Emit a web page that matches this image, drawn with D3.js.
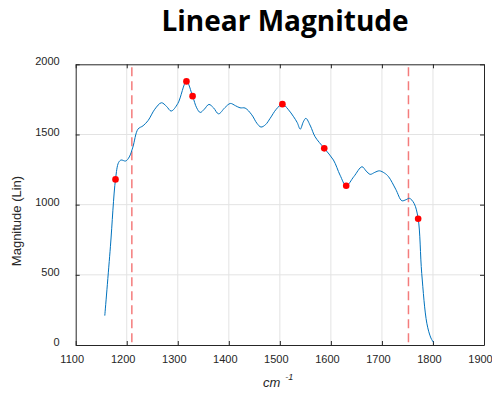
<!DOCTYPE html>
<html>
<head>
<meta charset="utf-8">
<script src="https://cdn.jsdelivr.net/npm/d3@7"></script>
<style>
  body { margin: 0; background: #fff; }
  svg { display: block; }
</style>
</head>
<body>
<svg id="chart" width="492" height="395"></svg>
<script>
// スペクトル (波数, 振幅)
var wavenum = [1157, 1168, 1178, 1184, 1189, 1198, 1205, 1212, 1222, 1232, 1242, 1255, 1268, 1278, 1287, 1300, 1317, 1329, 1337, 1344, 1352, 1361, 1370, 1380, 1392, 1403, 1413, 1422, 1432, 1445, 1455, 1463, 1472, 1481, 1493, 1505, 1516, 1527, 1534, 1540, 1546, 1551, 1560, 1569, 1587, 1605, 1618, 1630, 1645, 1661, 1669, 1677, 1686, 1695, 1705, 1713, 1727, 1739, 1747, 1754, 1763, 1771, 1778, 1788, 1796, 1801];
var magnitude = [209, 700, 1180, 1300, 1318, 1311, 1340, 1410, 1538, 1562, 1600, 1680, 1726, 1700, 1667, 1720, 1878, 1773, 1690, 1657, 1680, 1714, 1690, 1647, 1690, 1721, 1705, 1690, 1688, 1640, 1580, 1553, 1570, 1615, 1680, 1716, 1680, 1626, 1585, 1538, 1590, 1615, 1560, 1484, 1401, 1318, 1210, 1135, 1200, 1270, 1240, 1216, 1230, 1241, 1225, 1199, 1110, 1028, 1035, 1045, 1009, 900, 510, 155, 50, 19];

// 赤い点
var peakX = [1178, 1317, 1329, 1505, 1587, 1630, 1771];
var peakY = [1180, 1878, 1773, 1716, 1401, 1135, 900];

// 赤い破線
var markerX = [1210, 1752];

var xTicks = [1100, 1200, 1300, 1400, 1500, 1600, 1700, 1800, 1900];
var yTicks = [0, 500, 1000, 1500, 2000];

var pL = 75.7, pR = 484, pT = 64.3, pB = 345;

var svg = d3.select("#chart");

var x = d3.scaleLinear().domain([1100, 1900]).range([pL, pR]);
var y = d3.scaleLinear().domain([0, 2000]).range([pB, pT]);

// グリッド
svg.append("g").selectAll("line")
   .data(xTicks.slice(1, -1)).enter()
   .append("line")
   .attr("x1", function(d){return x(d);}).attr("x2", function(d){return x(d);})
   .attr("y1", pT).attr("y2", pB)
   .attr("stroke", "#e3e3e3").attr("stroke-width", 1);
svg.append("g").selectAll("line")
   .data(yTicks.slice(1, -1)).enter()
   .append("line")
   .attr("x1", pL).attr("x2", pR)
   .attr("y1", function(d){return y(d);}).attr("y2", function(d){return y(d);})
   .attr("stroke", "#e3e3e3").attr("stroke-width", 1);

// 軸 (内向きの目盛)
var fmt = function(d){ return d; };
var gx = svg.append("g").attr("transform", "translate(0," + pB + ")")
   .call(d3.axisBottom(x).tickValues(xTicks).tickSizeInner(-4).tickSizeOuter(0).tickPadding(10).tickFormat(fmt));
svg.append("g").attr("transform", "translate(0," + pT + ")")
   .call(d3.axisTop(x).tickValues(xTicks).tickSizeInner(-4).tickSizeOuter(0).tickFormat(""));
var gy = svg.append("g").attr("transform", "translate(" + pL + ",0)")
   .call(d3.axisLeft(y).tickValues(yTicks).tickSizeInner(-4).tickSizeOuter(0).tickPadding(16).tickFormat(fmt));
svg.append("g").attr("transform", "translate(" + pR + ",0)")
   .call(d3.axisRight(y).tickValues(yTicks).tickSizeInner(-4).tickSizeOuter(0).tickFormat(""));

svg.selectAll(".domain").attr("stroke", "#262626").attr("stroke-width", 1);
svg.selectAll(".tick line").attr("stroke", "#262626");
svg.selectAll(".tick text")
   .attr("font-family", "'Liberation Sans', Arial, sans-serif")
   .attr("font-size", 11).attr("fill", "#262626");
gx.selectAll(".tick text").attr("dx", -4);
gy.selectAll(".tick text").attr("dy", "0.05em");

// 破線
svg.append("g").selectAll("line")
   .data(markerX).enter()
   .append("line")
   .attr("x1", function(d){return x(d);}).attr("x2", function(d){return x(d);})
   .attr("y1", pT + 3).attr("y2", pB)
   .attr("stroke", "#f47c7c").attr("stroke-width", 1.5)
   .attr("stroke-dasharray", "9,5");

// 曲線
var pts = wavenum.map(function(d, i){ return [d, magnitude[i]]; });
var line = d3.line()
   .x(function(d){return x(d[0]);})
   .y(function(d){return y(d[1]);})
   .curve(d3.curveCatmullRom.alpha(0.5));
svg.append("path").datum(pts)
   .attr("d", line)
   .attr("fill", "none")
   .attr("stroke", "#0072bd")
   .attr("stroke-width", 1);

// 点
svg.append("g").selectAll("circle")
   .data(peakX).enter()
   .append("circle")
   .attr("cx", function(d){return x(d);})
   .attr("cy", function(d, i){return y(peakY[i]);})
   .attr("r", 3.3)
   .attr("fill", "#ff0000");

// タイトル・ラベル
svg.append("text")
   .attr("x", 285).attr("y", 30.5)
   .attr("text-anchor", "middle")
   .attr("font-family", "'Open Sans', Lato, sans-serif")
   .attr("font-weight", "bold").attr("font-size", 28)
   .attr("fill", "#000")
   .text("Linear Magnitude");

svg.append("text")
   .attr("transform", "translate(21,221) rotate(-90)")
   .attr("text-anchor", "middle")
   .attr("font-family", "'Liberation Sans', Arial, sans-serif")
   .attr("font-size", 13).attr("fill", "#262626")
   .text("Magnitude (Lin)");

var xl = svg.append("text")
   .attr("x", 263).attr("y", 386.5)
   .attr("font-family", "'Liberation Sans', Arial, sans-serif")
   .attr("font-style", "italic").attr("font-size", 13).attr("fill", "#262626");
xl.append("tspan").text("cm");
xl.append("tspan").attr("dx", 5).attr("dy", -7).attr("font-size", 9).text("-1");
</script>
</body>
</html>
